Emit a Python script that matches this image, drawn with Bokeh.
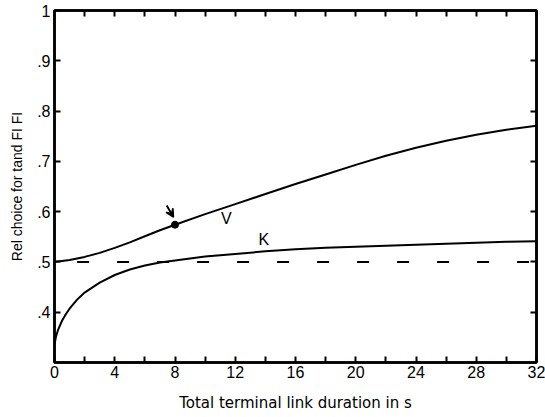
from bokeh.plotting import figure
from bokeh.embed import file_html
from bokeh.resources import INLINE
from bokeh.models import (LinearAxis, FixedTicker, Range1d, Arrow, VeeHead,
                          ColumnDataSource)
from bokeh.core.properties import value

# ---- data ----
x_vals = [0, 1, 2, 3, 4, 5, 6, 7, 8, 10, 12, 14, 16, 18, 20, 22, 24, 26, 28, 30, 32]
v_vals = [0.500, 0.504, 0.510, 0.518, 0.528, 0.539, 0.551, 0.563, 0.574, 0.595,
          0.615, 0.635, 0.655, 0.674, 0.693, 0.711, 0.727, 0.741, 0.753, 0.763, 0.771]

k_x = [0, 0.1, 0.25, 0.5, 0.75, 1, 1.5, 2, 3, 4, 5, 6, 7, 8, 10, 12, 14, 16, 18,
       20, 22, 24, 26, 28, 30, 32]
k_vals = [0.335, 0.352, 0.366, 0.383, 0.396, 0.407, 0.425, 0.439, 0.459, 0.474,
          0.485, 0.493, 0.499, 0.503, 0.511, 0.516, 0.521, 0.525, 0.528, 0.530,
          0.532, 0.534, 0.536, 0.538, 0.540, 0.541]

ref_x = [1.5, 32]
ref_y = [0.5, 0.5]

marked_x = 8
marked_y = 0.574

curve_labels = ["V", "K"]
curve_label_x = [11.4, 13.9]
curve_label_y = [0.586, 0.545]

x_major = [0, 4, 8, 12, 16, 20, 24, 28, 32]
x_minor = [2, 6, 10, 14, 18, 22, 26, 30]
y_major = [0.4, 0.5, 0.6, 0.7, 0.8, 0.9, 1.0]
y_tick_labels = [".4", ".5", ".6", ".7", ".8", ".9", "1"]

x_title = "Total terminal link duration in s"
y_title = "Rel choice for tand FI FI"

FONT = "Liberation Sans"
TITLE_FONT = "DejaVu Sans"

p = figure(width=545, height=417, output_backend="svg", toolbar_location=None,
           x_range=Range1d(0, 32), y_range=Range1d(0.3, 1.0),
           min_border_left=54, min_border_right=9, min_border_top=10,
           min_border_bottom=55, x_axis_location=None, y_axis_location=None)
p.grid.visible = False
p.outline_line_color = "black"
p.outline_line_width = 2.5
p.background_fill_color = "white"
p.border_fill_color = "white"

def style_axis(ax, ticks, minor, show_labels):
    ax.ticker = FixedTicker(ticks=ticks, minor_ticks=minor)
    ax.axis_line_color = "black"
    ax.axis_line_width = 2.5
    ax.major_tick_in = 6
    ax.major_tick_out = 0
    ax.minor_tick_in = 6
    ax.minor_tick_out = 0
    ax.major_tick_line_width = 2
    ax.minor_tick_line_width = 2
    ax.major_label_text_font = FONT
    ax.major_label_text_color = "black"
    ax.axis_label_text_color = "black"
    if show_labels:
        ax.major_label_text_font_size = "16px"
    else:
        ax.major_label_overrides = {t: "" for t in ticks}
        ax.major_label_text_font_size = "1px"
        ax.major_label_standoff = 0

xb = LinearAxis(axis_label=x_title)
style_axis(xb, x_major, x_minor, True)
xb.major_label_standoff = 3
xb.axis_label_text_font = TITLE_FONT
xb.axis_label_text_font_size = "15px"
xb.axis_label_text_font_style = "normal"
xb.axis_label_standoff = 13
p.add_layout(xb, "below")

yl = LinearAxis(axis_label=y_title)
style_axis(yl, y_major, [], True)
yl.major_label_overrides = dict(zip(y_major, y_tick_labels))
yl.major_label_standoff = 4
yl.axis_label_text_font = FONT
yl.axis_label_text_font_size = "14px"
yl.axis_label_text_font_style = "normal"
yl.axis_label_standoff = 9
p.add_layout(yl, "left")

xt = LinearAxis()
style_axis(xt, x_major, x_minor, False)
p.add_layout(xt, "above")

yr = LinearAxis()
style_axis(yr, y_major, [], False)
p.add_layout(yr, "right")

# reference dashed line at .5
p.line(ref_x, ref_y, line_color="black", line_width=2, line_dash="12 28")

# curves
p.line(x_vals, v_vals, line_color="black", line_width=2)
p.line(k_x, k_vals, line_color="black", line_width=2)

# marked point
p.scatter([marked_x], [marked_y], size=7, color="black")
p.add_layout(Arrow(end=VeeHead(size=8, fill_color="black", line_color="black", line_width=1.5),
                   x_start=marked_x - 0.55, y_start=marked_y + 0.038,
                   x_end=marked_x - 0.1, y_end=marked_y + 0.015,
                   line_color="black", line_width=2))

src = ColumnDataSource(dict(x=curve_label_x, y=curve_label_y, t=curve_labels))
p.text(x="x", y="y", text="t", source=src, text_font=value(FONT),
       text_font_size="16px", text_align="center", text_baseline="middle",
       text_color="black")

open("out.html", "w").write(file_html(p, INLINE))
